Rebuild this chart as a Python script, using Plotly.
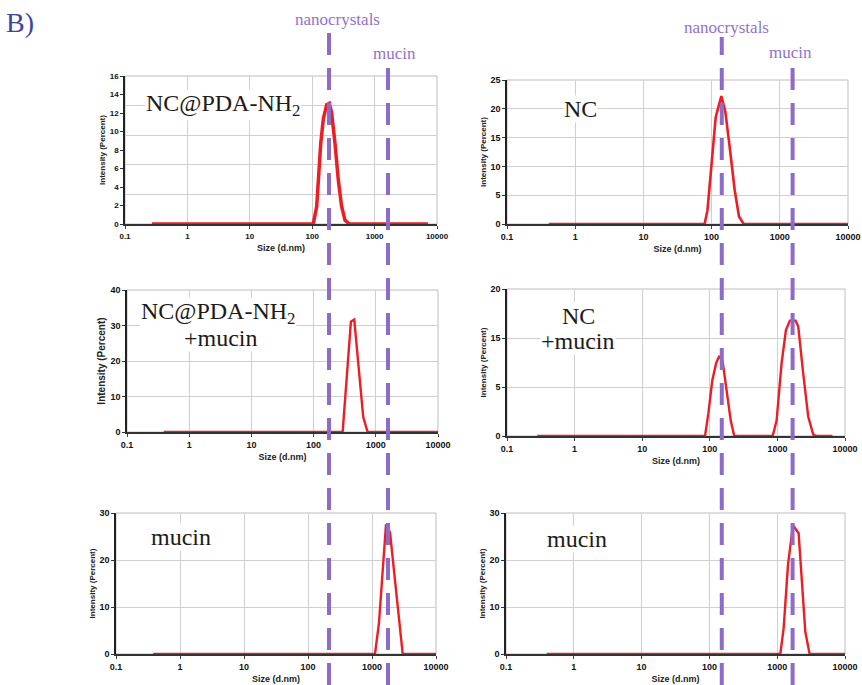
import math
import plotly.graph_objects as go

W, H = 862, 685

# ---------------- data ----------------
size_ticks = [0.1, 1, 10, 100, 1000, 10000]
size_labels = ["0.1", "1", "10", "100", "1000", "10000"]

# NC@PDA-NH2 alone (size d.nm, intensity %)
pda_size = [0.27, 104, 118, 137, 151, 171, 188, 205, 232, 262, 296, 336, 394, 7200]
pda_int = [0, 0, 1.9, 8.7, 11.4, 12.9, 13.05, 12.0, 8.7, 4.75, 1.9, 0.4, 0, 0]

# bare NC
nc_size = [0.41, 79, 87, 99, 115, 139, 159, 184, 218, 252, 295, 10000]
nc_int = [0, 0, 2.4, 9.4, 18.6, 22.2, 19.5, 13.4, 5.9, 1.3, 0, 0]

# NC@PDA-NH2 + mucin
pda_mucin_size = [0.39, 293, 398, 450, 628, 738, 10000]
pda_mucin_int = [0, 0, 31.1, 31.7, 4.2, 0, 0]

# NC + mucin
nc_mucin_size = [0.28, 85, 95, 109, 124, 138, 155, 178, 204, 230,
                 850, 973, 1153, 1337, 1531, 1858, 2033, 2410, 2860, 3390, 3800, 6530]
nc_mucin_int = [0, 0, 3.0, 7.6, 9.9, 10.9, 10.1, 6.2, 2.1, 0,
                0, 2.1, 9.9, 14.4, 15.7, 15.7, 14.9, 8.5, 2.6, 0.2, 0, 0]

# mucin alone, two runs
mucin_a_size = [0.38, 1114, 1285, 1656, 1911, 2740, 3020, 10000]
mucin_a_int = [0, 0, 6.6, 27.6, 25.9, 4.75, 0, 0]
mucin_b_size = [0.40, 1112, 1245, 1443, 1710, 2070, 2596, 3006, 10000]
mucin_b_int = [0, 0, 5.5, 19.0, 27.4, 25.7, 4.75, 0, 0]

# characteristic sizes marked by the dashed guides (d.nm)
left_nanocrystal_size = 186
left_mucin_size = 1640
right_nanocrystal_size = 141
right_mucin_size = 1540

# y tick sets
pda_yticks = [0, 2, 4, 6, 8, 10, 12, 14, 16]
pda_ygrid = [3.2, 6.4, 9.6, 12.8, 16]
nc_yticks = [0, 5, 10, 15, 20, 25]
pda_mucin_yticks = [0, 10, 20, 30, 40]
nc_mucin_ylabels = ["0", "5", "15", "20"]
mucin_yticks = [0, 10, 20, 30]

# ---------------- styling ----------------
RED = "#ee1c24"
PURPLE = "#8d6bcb"
GRID = "#cfcfcf"
SERIF = "Liberation Serif, Times New Roman, serif"
SANS = "Arial, Liberation Sans, sans-serif"

panels = [
    dict(x=pda_size, y=pda_int, box=(125, 76, 437, 224), yrange=[0, 16],
         yticks=pda_yticks, ytext=None, ygrid=pda_ygrid, lw=3.5, ytitle_size=8,
         tick_size=8, labels=[("NC@PDA-NH<sub>2</sub>", 223, 105)]),
    dict(x=nc_size, y=nc_int, box=(507, 80, 848, 224), yrange=[0, 25],
         yticks=nc_yticks, ytext=None, ygrid=None, lw=2.6, ytitle_size=8,
         tick_size=9, labels=[("NC", 580, 109)]),
    dict(x=pda_mucin_size, y=pda_mucin_int, box=(127, 290, 438, 432), yrange=[0, 40],
         yticks=pda_mucin_yticks, ytext=None, ygrid=None, lw=2.4, ytitle_size=10,
         tick_size=9, labels=[("NC@PDA-NH<sub>2</sub>", 218, 313), ("+mucin", 221, 338)]),
    dict(x=nc_mucin_size, y=nc_mucin_int, box=(507, 289, 845, 436), yrange=[0, 20],
         yticks=[0, 20 / 3, 40 / 3, 20], ytext=nc_mucin_ylabels, ygrid=None, lw=2.4,
         ytitle_size=8, tick_size=9, labels=[("NC", 578, 316), ("+mucin", 578, 341)]),
    dict(x=mucin_a_size, y=mucin_a_int, box=(116, 513, 436, 654), yrange=[0, 30],
         yticks=mucin_yticks, ytext=None, ygrid=None, lw=2.4, ytitle_size=8,
         tick_size=9, labels=[("mucin", 181, 537)]),
    dict(x=mucin_b_size, y=mucin_b_int, box=(506, 513, 845, 654), yrange=[0, 30],
         yticks=mucin_yticks, ytext=None, ygrid=None, lw=2.4, ytitle_size=8,
         tick_size=9, labels=[("mucin", 577, 539)]),
]

fig = go.Figure()
layout = {}
annotations = []
shapes = []

for i, p in enumerate(panels, 1):
    sfx = "" if i == 1 else str(i)
    xa, ya = "x" + sfx, "y" + sfx
    l, t, r, b = p["box"]

    fig.add_trace(go.Scatter(
        x=p["x"], y=p["y"], mode="lines", xaxis=xa, yaxis=ya,
        line=dict(color=RED, width=p["lw"]), showlegend=False, hoverinfo="skip",
    ))

    tick_font = dict(family=SANS, size=p["tick_size"], color="#111", weight="bold")

    layout["xaxis" + sfx] = dict(
        type="log", range=[-1, 4], domain=[l / W, r / W], anchor=ya, automargin=False,
        tickmode="array", tickvals=size_ticks, ticktext=size_labels,
        tickfont=tick_font, ticks="outside", ticklen=3, tickcolor="#444",
        showgrid=True, gridcolor=GRID, gridwidth=1,
        showline=True, linecolor="#333", linewidth=2, zeroline=False,
        title=dict(text="Size (d.nm)", standoff=5,
                   font=dict(family=SANS, size=9, color="#222", weight="bold")),
    )

    ycfg = dict(
        range=p["yrange"], domain=[1 - b / H, 1 - t / H], anchor=xa, automargin=False,
        tickmode="array", tickvals=p["yticks"],
        tickfont=tick_font, ticks="outside", ticklen=3, tickcolor="#333",
        showline=True, linecolor="#222", linewidth=1.5, zeroline=False,
        showgrid=p["ygrid"] is None, gridcolor=GRID, gridwidth=1,
        title=dict(text="Intensity (Percent)", standoff=3,
                   font=dict(family=SANS, size=p["ytitle_size"], color="#222", weight="bold")),
    )
    if p["ytext"] is not None:
        ycfg["ticktext"] = p["ytext"]
    if p["ygrid"] is not None:
        ycfg["minor"] = dict(tickmode="array", tickvals=p["ygrid"], showgrid=True,
                             gridcolor=GRID, gridwidth=1, ticks="")
    layout["yaxis" + sfx] = ycfg

    # light frame around the plotting area
    shapes.append(dict(type="rect", xref=xa + " domain", yref=ya + " domain",
                       x0=0, x1=1, y0=0, y1=1, layer="below",
                       line=dict(color="#bdbdbd", width=1)))

    for text, cx, cy in p["labels"]:
        annotations.append(dict(
            text=text, x=cx / W, y=1 - cy / H, xref="paper", yref="paper",
            xanchor="center", yanchor="middle", showarrow=False,
            bgcolor="white", borderpad=0,
            font=dict(family=SERIF, size=24, color="#1e1a18"),
        ))

# dashed guides running through each column
guides = [
    ("x", left_nanocrystal_size, 32, "nanocrystals", 8, 19),
    ("x", left_mucin_size, 68, "mucin", 6, 53),
    ("x2", right_nanocrystal_size, 37, "nanocrystals", 5, 27),
    ("x2", right_mucin_size, 68, "mucin", -2, 52),
]
for xref, val, top, name, dx, ty in guides:
    shapes.append(dict(type="line", xref=xref, yref="paper", x0=val, x1=val,
                       y0=0, y1=1 - top / H, layer="above",
                       line=dict(color=PURPLE, width=4, dash="22px,13px")))
    annotations.append(dict(
        text=name, x=math.log10(val), y=1 - ty / H, xref=xref, yref="paper",
        xanchor="center", yanchor="middle", xshift=dx, showarrow=False,
        font=dict(family=SERIF, size=17, color="#9273cc"),
    ))

annotations.append(dict(
    text="B)", x=20 / W, y=1 - 22 / H, xref="paper", yref="paper",
    xanchor="center", yanchor="middle", showarrow=False,
    font=dict(family=SERIF, size=28, color="#3a47a0"),
))

fig.update_layout(
    width=W, height=H, margin=dict(l=0, r=0, t=0, b=0, autoexpand=False),
    paper_bgcolor="white", plot_bgcolor="white",
    annotations=annotations, shapes=shapes, **layout,
)

fig.write_html("out.html", config={"displayModeBar": False})
